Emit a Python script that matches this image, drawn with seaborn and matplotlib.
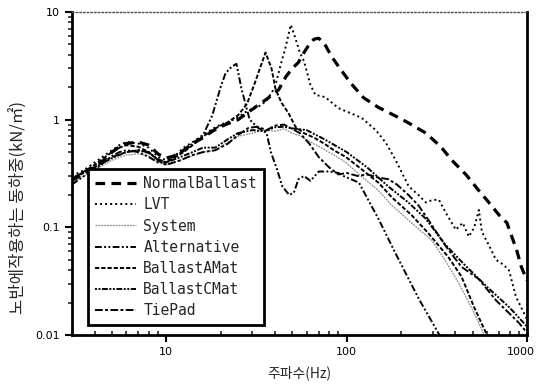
import numpy as np
import pandas as pd
import matplotlib.pyplot as plt
import matplotlib.ticker as mticker
import matplotlib.transforms as mtransforms
import seaborn as sns

# ---- data (frequency in Hz, load in kN/m2) ----
f_nb = [3, 3.5, 4, 4.5, 5, 5.5, 6, 7, 8, 9, 10, 11, 12.5, 14, 16, 18, 20, 22, 25, 28, 32,
        36, 42, 46, 50, 54, 58, 62, 66, 70, 75, 83, 93, 105, 124, 150, 183, 221, 275, 333,
        383, 458, 540, 615, 700, 774, 880, 930, 1000]
v_nb = [0.27, 0.32, 0.36, 0.42, 0.5, 0.56, 0.6, 0.62, 0.58, 0.48, 0.44, 0.46, 0.52, 0.6,
        0.68, 0.78, 0.86, 0.92, 1.0, 1.15, 1.35, 1.55, 1.9, 2.5, 3.0, 3.4, 4.2, 5.0, 5.6,
        5.7, 5.15, 3.8, 2.9, 2.2, 1.6, 1.3, 1.1, 0.93, 0.75, 0.56, 0.42, 0.31, 0.22, 0.17,
        0.13, 0.11, 0.06, 0.043, 0.032]

f_lvt = [3, 3.5, 4, 4.5, 5, 5.5, 6, 7, 8, 9, 10, 11, 12.5, 14, 16, 18, 20, 22, 25, 28, 32,
         36, 40, 43, 46, 49, 52, 55, 58, 63, 67, 76, 90, 105, 121, 145, 165, 187, 221, 250,
         275, 300, 325, 355, 403, 440, 476, 510, 541, 562, 610, 673, 740, 794, 869, 1000]
v_lvt = [0.3, 0.34, 0.4, 0.46, 0.52, 0.58, 0.62, 0.6, 0.55, 0.45, 0.42, 0.45, 0.55, 0.62,
         0.72, 0.82, 0.9, 0.95, 1.05, 1.2, 1.3, 1.5, 2.0, 3.2, 4.8, 7.6, 5.7, 4.2, 3.5, 2.1,
         1.7, 1.62, 1.28, 1.15, 1.04, 0.8, 0.61, 0.42, 0.24, 0.2, 0.17, 0.18, 0.18, 0.136,
         0.095, 0.11, 0.082, 0.1, 0.145, 0.091, 0.07, 0.05, 0.045, 0.04, 0.0226, 0.014]

f_sys = [3, 3.5, 4, 5, 6, 7, 8, 9, 10, 12, 14, 16, 18.7, 22, 25, 30, 35, 40, 45, 50, 56, 63,
         72, 85, 99, 120, 150, 178, 229, 296, 350, 420, 500, 580]
v_sys = [0.26, 0.3, 0.34, 0.42, 0.47, 0.48, 0.46, 0.4, 0.38, 0.42, 0.46, 0.5, 0.52, 0.62,
         0.7, 0.75, 0.8, 0.78, 0.82, 0.75, 0.7, 0.62, 0.55, 0.47, 0.4, 0.3, 0.22, 0.16,
         0.11, 0.076, 0.05, 0.03, 0.017, 0.01]

f_alt = [3, 3.5, 4, 4.5, 5, 5.5, 6, 7, 8, 9, 10, 11, 12.5, 14, 16, 18, 20, 21.3, 23, 24.5,
         26, 27.8, 29, 32, 36, 38, 41, 44, 48, 51, 54, 58, 63, 70, 80, 90, 96, 117, 150, 187,
         250, 327, 340]
v_alt = [0.25, 0.3, 0.34, 0.4, 0.46, 0.5, 0.52, 0.5, 0.45, 0.4, 0.4, 0.45, 0.52, 0.6, 0.72,
         1.1, 2.0, 2.7, 3.1, 3.3, 2.0, 1.3, 1.0, 0.85, 0.75, 0.5, 0.35, 0.24, 0.2, 0.21, 0.28,
         0.3, 0.27, 0.33, 0.33, 0.32, 0.3, 0.26, 0.12, 0.057, 0.022, 0.01, 0.009]

f_bam = [3, 3.5, 4, 4.5, 5, 5.5, 6, 7, 8, 9, 10, 11, 12.5, 14, 16, 18, 20, 22, 25, 28, 31,
         33.3, 35.5, 38.3, 40.4, 43.6, 47.6, 52, 58, 66, 75, 85, 99, 120, 150, 178, 229, 284,
         366, 433, 510, 600]
v_bam = [0.28, 0.33, 0.38, 0.44, 0.5, 0.55, 0.58, 0.56, 0.5, 0.42, 0.4, 0.44, 0.5, 0.58,
         0.7, 0.8, 0.88, 0.95, 1.1, 1.4, 2.2, 3.1, 4.2, 3.0, 1.9, 1.43, 1.15, 0.86, 0.75,
         0.68, 0.6, 0.52, 0.45, 0.35, 0.26, 0.19, 0.13, 0.088, 0.053, 0.035, 0.018, 0.01]

f_bcm = [3, 3.5, 4, 5, 6, 7, 8, 9, 10, 12, 14, 16, 18.7, 22, 25, 30, 35, 40, 45, 50, 60, 75,
         100, 130, 170, 220, 275, 350, 450, 600, 800, 1000]
v_bcm = [0.29, 0.32, 0.36, 0.44, 0.5, 0.52, 0.49, 0.43, 0.4, 0.45, 0.5, 0.55, 0.55, 0.66,
         0.75, 0.8, 0.78, 0.85, 0.86, 0.83, 0.8, 0.66, 0.5, 0.36, 0.24, 0.17, 0.12, 0.07,
         0.045, 0.028, 0.018, 0.012]

f_tp = [3, 3.5, 4, 5, 6, 7, 8, 9, 10, 12, 14, 16, 18.7, 22, 25, 28.6, 32, 36, 40, 45, 50,
        55, 62, 70, 80, 90, 100, 115, 130, 150, 170, 190, 220, 250, 284, 330, 366, 433, 541,
        673, 794, 900, 1000]
v_tp = [0.28, 0.33, 0.37, 0.45, 0.5, 0.52, 0.5, 0.42, 0.38, 0.42, 0.47, 0.5, 0.52, 0.6,
        0.72, 0.84, 0.86, 0.8, 0.88, 0.9, 0.82, 0.75, 0.6, 0.45, 0.36, 0.31, 0.32, 0.3, 0.31,
        0.29, 0.28, 0.25, 0.2, 0.16, 0.117, 0.08, 0.062, 0.043, 0.033, 0.021, 0.016, 0.013,
        0.0105]

case_names = ["NormalBallast", "LVT", "System", "Alternative", "BallastAMat",
              "BallastCMat", "TiePad"]
series = [(f_nb, v_nb), (f_lvt, v_lvt), (f_sys, v_sys), (f_alt, v_alt),
          (f_bam, v_bam), (f_bcm, v_bcm), (f_tp, v_tp)]

x_ticks = [10, 100, 1000]
x_labels = ["10", "100", "1000"]
y_ticks = [0.01, 0.1, 1, 10]
y_labels = ["0.01", "0.1", "1", "10"]

frames = []
for name, (f, v) in zip(case_names, series):
    frames.append(pd.DataFrame({"freq": f, "load": v, "case": name}))
df = pd.concat(frames, ignore_index=True)

# ---- styles ----
palette = {n: "black" for n in case_names}
palette["System"] = "0.55"
dashes = {
    "NormalBallast": (3.0, 2.0),
    "LVT": (1.0, 1.6),
    "System": (1.5, 0.8),
    "Alternative": (3.5, 1.2, 1.0, 1.2, 1.0, 1.2),
    "BallastAMat": (2.2, 1.0),
    "BallastCMat": (1.0, 0.8, 1.0, 0.8, 3.0, 0.8),
    "TiePad": (4.0, 1.2, 1.5, 1.2),
}
sizes = {n: 1.4 for n in case_names}
sizes["NormalBallast"] = 2.3
sizes["System"] = 0.9

sns.set_style("ticks")
plt.rcParams["font.family"] = ["DejaVu Sans", "Noto Sans CJK KR"]
kr_font = ["Noto Sans CJK KR", "DejaVu Sans"]

fig = plt.figure(figsize=(5.39, 3.88), dpi=100)
ax = fig.add_axes([72 / 539, 1 - 335 / 388, 455 / 539, 323 / 388])

sns.lineplot(
    data=df, x="freq", y="load",
    hue="case", style="case", size="case",
    hue_order=case_names, style_order=case_names, size_order=case_names,
    palette=palette, dashes=dashes, sizes=sizes,
    sort=False, estimator=None, ax=ax
)

ax.set_xscale("log")
ax.set_yscale("log")
ax.set_xlim(3, 1000)
ax.set_ylim(0.01, 10)

ax.xaxis.set_major_locator(mticker.FixedLocator(x_ticks))
ax.xaxis.set_major_formatter(mticker.FixedFormatter(x_labels))
ax.yaxis.set_major_locator(mticker.FixedLocator(y_ticks))
ax.yaxis.set_major_formatter(mticker.FixedFormatter(y_labels))
ax.xaxis.set_minor_locator(mticker.LogLocator(base=10, subs=np.arange(2, 10)))
ax.yaxis.set_minor_locator(mticker.LogLocator(base=10, subs=np.arange(2, 10)))
ax.xaxis.set_minor_formatter(mticker.NullFormatter())
ax.yaxis.set_minor_formatter(mticker.NullFormatter())

ax.tick_params(axis="both", which="major", direction="out", length=5, width=1.5,
               labelsize=8, colors="black")
ax.tick_params(axis="x", which="minor", direction="in", length=3, width=1.2)
ax.tick_params(axis="y", which="minor", direction="out", length=3, width=1.2)

for side in ["left", "bottom", "right"]:
    ax.spines[side].set_visible(True)
    ax.spines[side].set_linewidth(2.0)
    ax.spines[side].set_color("black")
ax.spines["top"].set_visible(True)
ax.spines["top"].set_linewidth(1.0)
ax.spines["top"].set_linestyle(":")
ax.spines["top"].set_color("0.3")

ax.set_xlabel("주파수(Hz)", fontsize=10, family=kr_font, labelpad=6)
ax.set_ylabel("노반에작용하는 동하중(kN/㎡)", fontsize=12, family=kr_font)
ax.yaxis.set_label_coords(-0.098, 0.395)

# keep the right-most tick label inside the canvas
fig.canvas.draw()
last = ax.get_xticklabels()[-1]
last.set_transform(last.get_transform()
                   + mtransforms.ScaledTranslation(-6 / 100, 0, fig.dpi_scale_trans))

handles, labels = ax.get_legend_handles_labels()
leg = ax.legend(
    handles, labels,
    loc="lower left", bbox_to_anchor=(0.035, 0.03),
    prop={"family": "DejaVu Sans Mono", "size": 10.5},
    frameon=True, fancybox=False, handlelength=2.8,
    handletextpad=0.5, borderpad=0.5, labelspacing=0.42, borderaxespad=0.0
)
leg.get_frame().set_edgecolor("black")
leg.get_frame().set_linewidth(2.0)
leg.get_frame().set_alpha(1.0)

fig.savefig("out.png", dpi=100)
plt.close(fig)
